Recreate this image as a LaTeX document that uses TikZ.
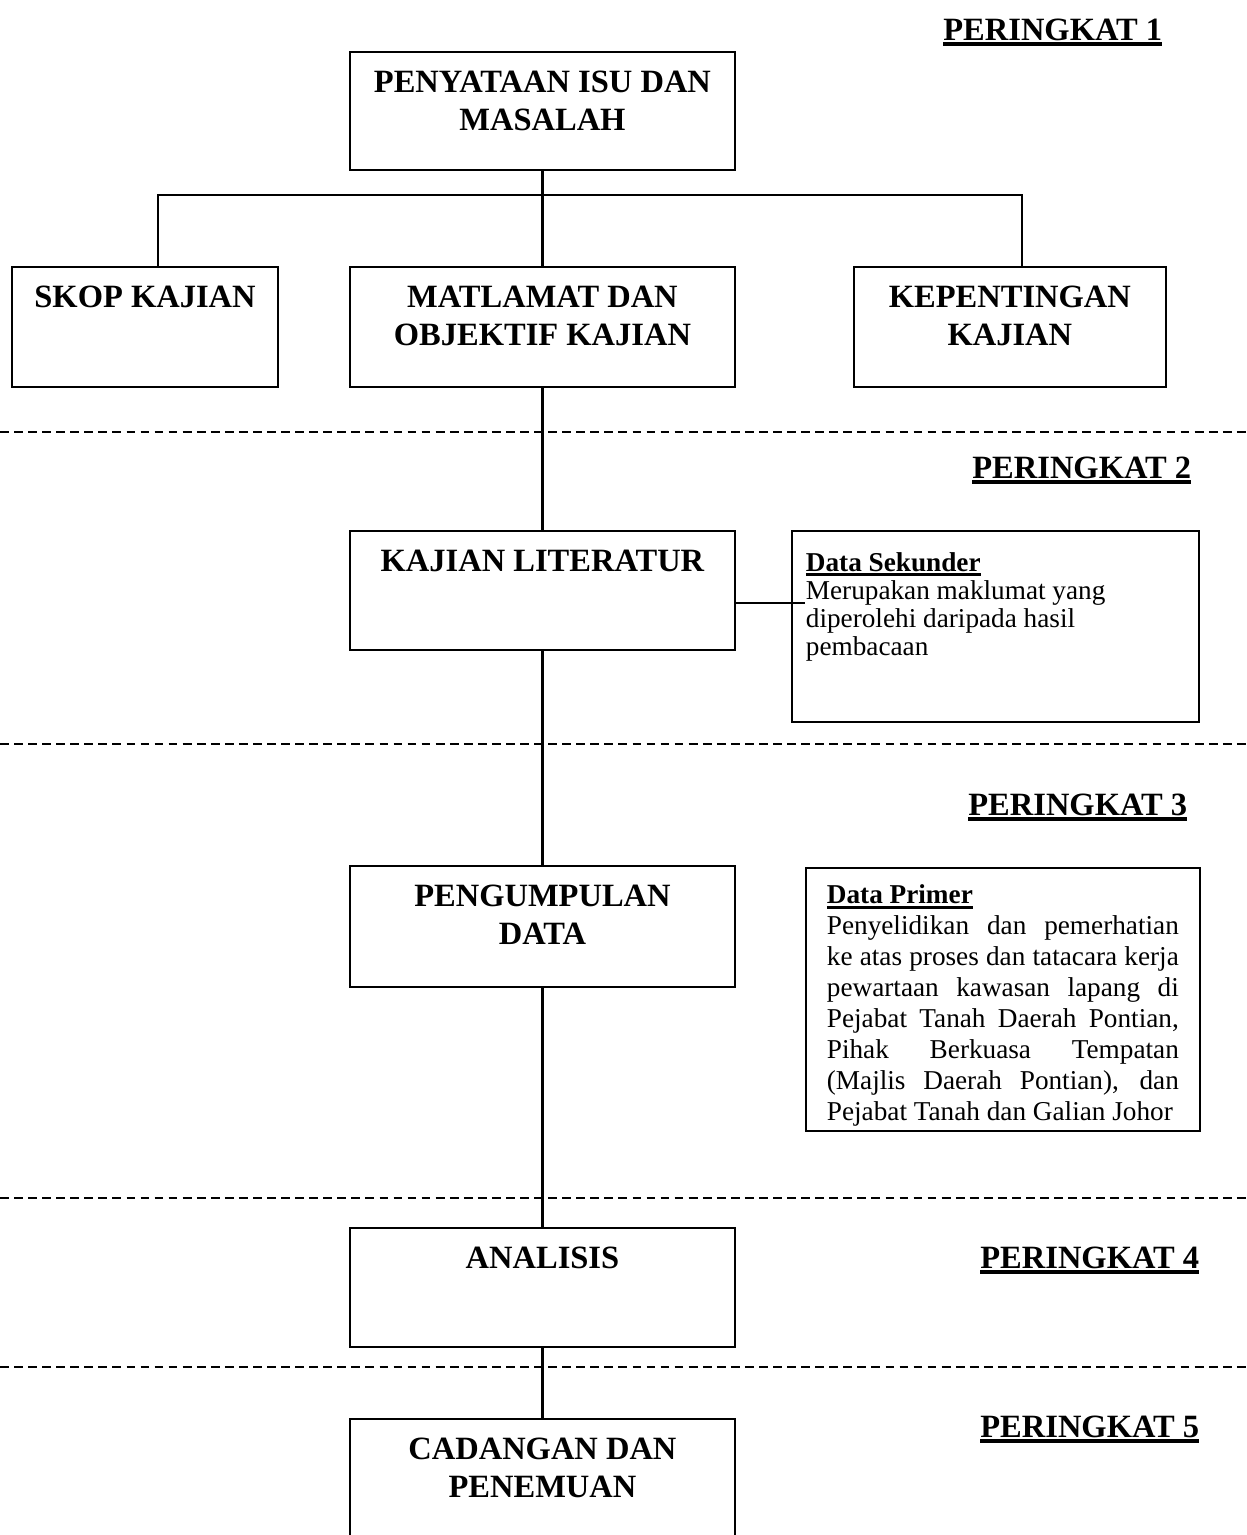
\documentclass[tikz,border=0pt]{standalone}
\usepackage{fontspec}
\setmainfont{Liberation Serif}
\usetikzlibrary{positioning}

\newcommand{\judul}{\fontsize{18.5}{21.8}\selectfont\bfseries}
\newcommand{\teks}{\fontsize{15.5}{16}\selectfont}
\newsavebox{\kotakgaris}
\newcommand{\garisbawah}[1]{\sbox{\kotakgaris}{#1}\rlap{\rule[-0.18em]{\wd\kotakgaris}{0.12em}}\usebox{\kotakgaris}}
\newcommand{\isi}[3]{\parbox[t][#2][t]{#1}{\centering\strut#3}}
\newcommand{\nota}[3]{\parbox[t][#2][t]{#1}{\hyphenpenalty=10000\strut#3}}

\tikzset{
  kotak/.style={draw, line width=1.4pt, outer sep=0pt, inner xsep=0pt, inner ysep=0.27cm, font=\judul},
  catatan/.style={draw, line width=1.4pt, outer sep=0pt, font=\teks},
  peringkat/.style={anchor=base west, inner sep=0pt, font=\judul},
  garis/.style={line width=1.2pt},
  putus/.style={line width=1.1pt, dash pattern=on 5pt off 3pt}
}

\begin{document}
\begin{tikzpicture}[x=0.02cm, y=-0.02cm]
\useasboundingbox (0,0) rectangle (1247,1535);
\clip (0,0) rectangle (1247,1535);
% peringkat
\node[peringkat] (p1) at (943,40) {\garisbawah{PERINGKAT 1}};
\node[peringkat] (p2) at (972,478) {\garisbawah{PERINGKAT 2}};
\node[peringkat] (p3) at (968,815) {\garisbawah{PERINGKAT 3}};
\node[peringkat] (p4) at (980,1268) {\garisbawah{PERINGKAT 4}};
\node[peringkat] (p5) at (980,1437) {\garisbawah{PERINGKAT 5}};
%----------------------------------
\foreach \y in {432,744,1198,1367}
  \draw[putus] (0,\y) -- (1247,\y);
%----------------------------------
\node[kotak, anchor=north west] (isu) at (350,52) {\isi{7.7cm}{1.82cm}{PENYATAAN ISU DAN\\MASALAH}};
\node[kotak, below=1.94cm of isu] (matlamat) {\isi{7.7cm}{1.86cm}{MATLAMAT DAN\\OBJEKTIF KAJIAN}};
\node[kotak, left=1.44cm of matlamat.north west, anchor=north east] (skop) {\isi{5.32cm}{1.86cm}{SKOP KAJIAN}};
\node[kotak, right=2.38cm of matlamat.north east, anchor=north west] (penting) {\isi{6.24cm}{1.86cm}{KEPENTINGAN\\KAJIAN}};
%----------------------------------
\node[kotak, below=2.88cm of matlamat] (literatur) {\isi{7.7cm}{1.84cm}{KAJIAN LITERATUR}};
\node[catatan, inner xsep=0.28cm, inner ysep=0.42cm, right=1.14cm of literatur.north east, anchor=north west] (sekunder) {\nota{7.58cm}{2.98cm}{\textbf{\garisbawah{Data Sekunder}}\\Merupakan maklumat yang\\diperolehi daripada hasil\\pembacaan}};
%----------------------------------
\node[kotak, below=4.32cm of literatur] (kumpul) {\isi{7.7cm}{1.88cm}{PENGUMPULAN\\DATA}};
\node[catatan, font=\fontsize{15.5}{17.6}\selectfont, inner xsep=0.42cm, inner ysep=0.29cm, right=1.42cm of kumpul.north east, anchor=north west, yshift=-0.04cm] (primer) {\nota{7.04cm}{4.68cm}{\textbf{\garisbawah{Data Primer}}\\Penyelidikan dan pemerhatian\linebreak ke atas proses dan tatacara kerja\linebreak pewartaan kawasan lapang di\linebreak Pejabat Tanah Daerah Pontian,\linebreak Pihak Berkuasa Tempatan\linebreak (Majlis Daerah Pontian), dan\linebreak Pejabat Tanah dan Galian Johor}};
%----------------------------------
\node[kotak, below=4.82cm of kumpul] (analisis) {\isi{7.7cm}{1.84cm}{ANALISIS}};
\node[kotak, below=1.44cm of analisis] (cadangan) {\isi{7.7cm}{2.0cm}{CADANGAN DAN\\PENEMUAN}};
%----------------------------------
\coordinate[below=0.5cm of isu] (cabang);
\coordinate[right=1.4cm of literatur.east, yshift=-0.25cm] (ujung);
\draw[garis] (isu) -- (matlamat);
\draw[garis] ([xshift=0.26cm]skop.north) |- (cabang) -| ([xshift=0.24cm]penting.north);
\draw[garis] (matlamat) -- (literatur);
\draw[garis] ([yshift=-0.25cm]literatur.east) -- (ujung);
\draw[garis] (literatur) -- (kumpul);
\draw[garis] (kumpul) -- (analisis);
\draw[garis] (analisis) -- (cadangan);
\end{tikzpicture}
\end{document}
